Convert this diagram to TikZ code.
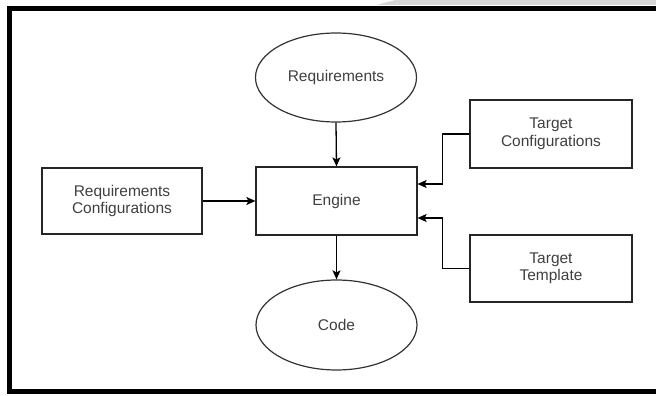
\documentclass[tikz,border=0pt]{standalone}
\usepackage{fontspec}
\setmainfont{Liberation Sans}
\usetikzlibrary{shapes.geometric,arrows.meta}
\begin{document}
\begin{tikzpicture}[x=1pt,y=-1pt,
  txt/.style={text=black!75,font=\fontsize{15.5}{17.5}\selectfont,align=center},
  boxnode/.style={txt,draw=black!85,line width=1.2pt,rectangle,minimum width=161pt,minimum height=67pt,inner sep=0pt},
  ellnode/.style={txt,draw=black!80,line width=1.2pt,ellipse,minimum width=161pt,minimum height=89pt,inner sep=0pt},
  arr/.style={draw=black,line width=1.3pt,-{Stealth[length=9pt,width=8pt,inset=2pt]}}]
\useasboundingbox (0,0) rectangle (656,396);
\fill[white] (0,0) rectangle (656,396);
\fill[black!16] (377,5) -- (395,0) -- (656,0) -- (656,5) -- cycle;
\draw[line width=5.5pt,black] (9.5,8.5) rectangle (720,391.5);
\node[ellnode] (req) at (336,77.5) {Requirements};
\node[boxnode,minimum height=68pt] (eng) at (336.5,201) {Engine};
\node[ellnode,minimum height=90pt] (code) at (336.5,325) {Code};
\node[boxnode,minimum width=160pt,minimum height=66pt] (rc) at (122,201) {Requirements\\Configurations};
\node[boxnode,minimum width=162pt,minimum height=68pt] (tc) at (551,134) {Target\\Configurations};
\node[boxnode,minimum width=162pt] (tt) at (551,268.5) {Target\\Template};
\draw[arr] (req.south) -- (eng.north);
\draw[arr] (eng.south) -- (code.north);
\draw[arr] (rc.east) -- (eng.west);
\draw[arr] (tc.west) -- ++(-27,0) |- ([yshift=17pt]eng.east);
\draw[arr] (tt.west) -- ++(-27,0) |- ([yshift=-17pt]eng.east);
\end{tikzpicture}
\end{document}
